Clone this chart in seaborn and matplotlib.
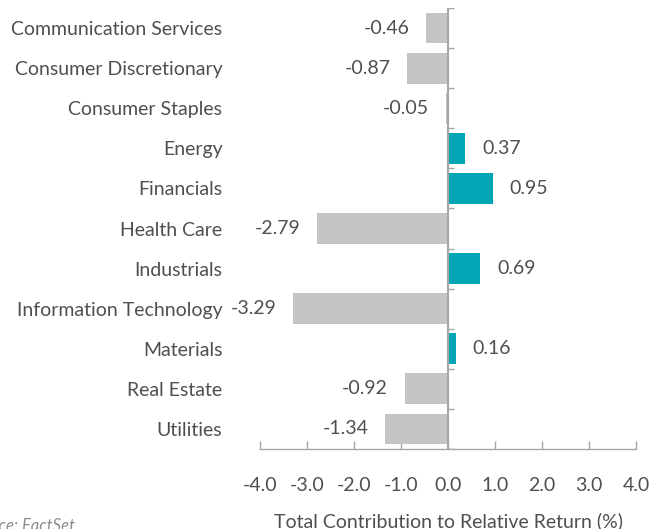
import seaborn as sns
import matplotlib.pyplot as plt
import pandas as pd

# sector contributions
sectors = ['Communication Services', 'Consumer Discretionary', 'Consumer Staples',
           'Energy', 'Financials', 'Health Care', 'Industrials',
           'Information Technology', 'Materials', 'Real Estate', 'Utilities']
contrib = [-0.46, -0.87, -0.05, 0.37, 0.95, -2.79, 0.69, -3.29, 0.16, -0.92, -1.34]
x_ticks = [-4, -3, -2, -1, 0, 1, 2, 3, 4]

POS = '#00a6b4'
NEG = '#c4c4c4'
TXT = '#4f4f4f'
AX = '#a6a6a6'
FS = 14

sns.set_style('white')
plt.rcParams['font.family'] = ['Lato', 'DejaVu Sans']

df = pd.DataFrame({'sector': sectors, 'value': contrib})
colors = [POS if v > 0 else NEG for v in contrib]

fig = plt.figure(figsize=(6.53, 5.29), dpi=100)
ax = fig.add_axes([260 / 653, 1 - 449 / 529, 376 / 653, 441 / 529])

sns.barplot(data=df, x='value', y='sector', hue='sector', palette=colors,
            legend=False, width=0.77, saturation=1, linewidth=0, ax=ax, orient='h')

ax.set_xlim(-4, 4)
ax.set_ylim(len(sectors) - 0.5, -0.5)
ax.set_xticks(x_ticks)
ax.set_xticklabels([f'{t:.1f}' for t in x_ticks])

# value labels, fixed gap from bar end
for i, v in enumerate(contrib):
    off = -12 if v < 0 else 12
    ax.annotate(f'{v:.2f}', (v, i), xytext=(off, 0), textcoords='offset points',
                ha='right' if v < 0 else 'left', va='center', fontsize=FS, color=TXT)

for s in ['left', 'right', 'top']:
    ax.spines[s].set_visible(False)
ax.spines['bottom'].set_color(AX)
ax.spines['bottom'].set_linewidth(1)

ax.tick_params(axis='y', length=0, pad=27, labelsize=FS, labelcolor=TXT)
ax.tick_params(axis='x', direction='in', length=6, width=1, color=AX, bottom=True,
               pad=20, labelsize=FS, labelcolor=TXT)

# vertical zero axis with small ticks between categories
ax.axvline(0, color=AX, lw=1.5, zorder=5)
bounds = [i + 0.5 for i in range(-1, len(sectors))]
ax.hlines(bounds, 0, 0.13, color=AX, lw=1, zorder=5)

ax.set_ylabel('')
ax.set_xlabel('Total Contribution to Relative Return (%)', fontsize=FS, color=TXT, labelpad=13)

fig.text(-0.05, 0.006, 'Source: FactSet', fontsize=12, style='italic', color='#8c8c8c',
         ha='left', va='center')

fig.savefig('out.png', dpi=100)
